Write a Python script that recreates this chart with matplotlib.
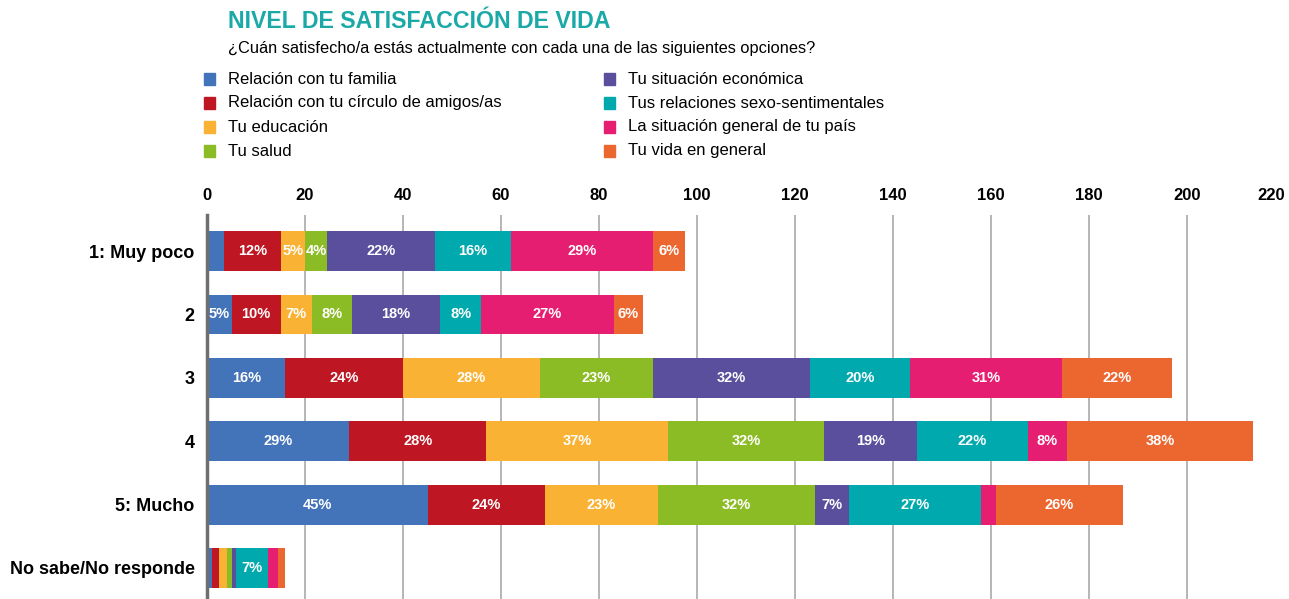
import matplotlib.pyplot as plt
from matplotlib.patches import Rectangle
import numpy as np

# categories (rows) and series (segments)
categories = ["1: Muy poco", "2", "3", "4", "5: Mucho", "No sabe/No responde"]
series = ["Relación con tu familia", "Relación con tu círculo de amigos/as",
          "Tu educación", "Tu salud", "Tu situación económica",
          "Tus relaciones sexo-sentimentales", "La situación general de tu país",
          "Tu vida en general"]
colors = ["#4373b9", "#be1622", "#f9b233", "#8bbc25", "#5a4f9c",
          "#00a9ad", "#e61e71", "#ec6630"]

familia   = [3.5, 5, 16, 29, 45, 1]
amigos    = [11.5, 10, 24, 28, 24, 1.5]
educacion = [5, 6.5, 28, 37, 23, 1.5]
salud     = [4.5, 8, 23, 32, 32, 1]
economica = [22, 18, 32, 19, 7, 1]
sexo      = [15.5, 8.5, 20.5, 22.5, 27, 6.5]
pais      = [29, 27, 31, 8, 3, 2]
vida      = [6.5, 6, 22.5, 38, 26, 1.5]
values = [familia, amigos, educacion, salud, economica, sexo, pais, vida]
# percentages printed on segments
labels = [
    [None, 5, 16, 29, 45, None],
    [12, 10, 24, 28, 24, None],
    [5, 7, 28, 37, 23, None],
    [4, 8, 23, 32, 32, None],
    [22, 18, 32, 19, 7, None],
    [16, 8, 20, 22, 27, 7],
    [29, 27, 31, 8, None, None],
    [6, 6, 22, 38, 26, None],
]

plt.rcParams['font.family'] = ['Liberation Sans', 'DejaVu Sans']

fig = plt.figure(figsize=(12.89, 5.99), dpi=100)
ax = fig.add_axes([207 / 1289, 0, 1078 / 1289, 1 - 215 / 599])

y = np.arange(len(categories))
left = np.zeros(len(categories))
for vals, lab, col in zip(values, labels, colors):
    vals = np.array(vals, dtype=float)
    bars = ax.barh(y, vals, left=left, height=0.63, color=col, zorder=3)
    for b, l in zip(bars, lab):
        if l is None:
            continue
        ax.text(b.get_x() + b.get_width() / 2, b.get_y() + b.get_height() / 2,
                f"{l}%", ha='center', va='center', color='white',
                fontsize=10.5, fontweight='bold', zorder=4)
    left += vals

ax.set_xlim(0, 220)
ax.set_ylim(5.49, -0.57)
ax.set_xticks(range(0, 220, 20))
ax.xaxis.tick_top()
ax.tick_params(axis='x', length=0, pad=9, labelsize=12)
ax.tick_params(axis='y', length=0, pad=9, labelsize=13)
ax.set_yticks(y)
ax.set_yticklabels(categories)
for t in ax.get_xticklabels() + ax.get_yticklabels():
    t.set_fontweight('bold')
# last tick label (no gridline), pulled in from the right edge
ax.annotate("220", xy=(220, 1.0), xycoords=ax.get_xaxis_transform(),
            xytext=(0, 9), textcoords='offset points', ha='right', va='bottom',
            fontsize=12, fontweight='bold')
ax.grid(axis='x', color='#b0b0b0', linewidth=1.3, zorder=0)
for s in ['top', 'right', 'bottom']:
    ax.spines[s].set_visible(False)
ax.spines['left'].set_color('#6f6f6f')
ax.spines['left'].set_linewidth(2.5)
ax.spines['left'].set_zorder(5)

# title and subtitle
fig.text(228 / 1289, 1 - 21 / 599, "NIVEL DE SATISFACCIÓN DE VIDA", color='#1aa9a7',
         fontsize=16.7, fontweight='bold', va='center', ha='left')
fig.text(228 / 1289, 1 - 48 / 599,
         "¿Cuán satisfecho/a estás actualmente con cada una de las siguientes opciones?",
         fontsize=11.8, va='center', ha='left')

# legend, two columns of four
for i, (name, col) in enumerate(zip(series, colors)):
    cx = 204 if i < 4 else 604
    cy = 79 + 24 * (i % 4)
    fig.add_artist(Rectangle((cx / 1289, 1 - (cy + 6) / 599), 11 / 1289, 12 / 599,
                             color=col, transform=fig.transFigure))
    fig.text((cx + 24) / 1289, 1 - cy / 599, name, fontsize=12, va='center', ha='left')

fig.savefig("out.png", dpi=100)
